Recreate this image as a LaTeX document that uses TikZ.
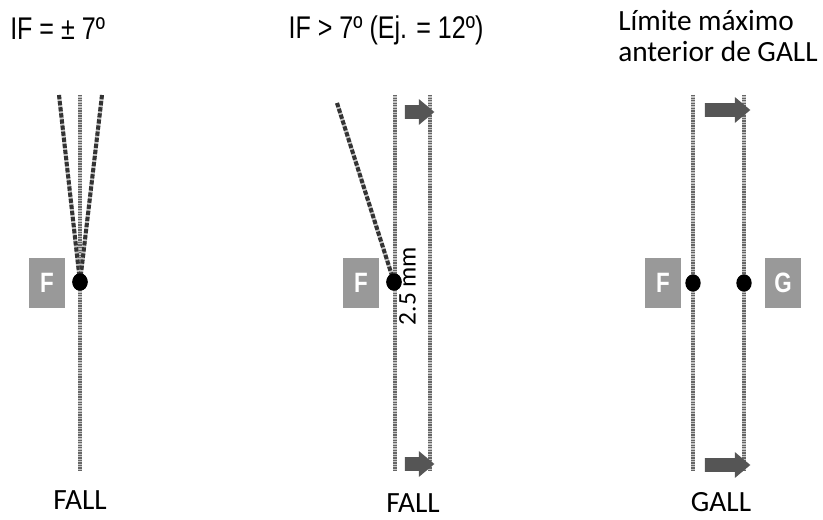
\documentclass[tikz,border=0pt]{standalone}
\usepackage{fontspec}
\setmainfont{Carlito}
\newfontfamily\condfont[FakeStretch=0.8]{Liberation Sans}
\usetikzlibrary{shapes.arrows,shapes.geometric}
\definecolor{boxgray}{HTML}{999999}
\definecolor{guidelight}{HTML}{C4C4C4}
\definecolor{guidedark}{HTML}{666666}
\definecolor{slantdark}{HTML}{333333}
\definecolor{arrowgray}{HTML}{555555}
\tikzset{
  guidebase/.style={draw=guidelight, line width=2.7pt},
  guidedash/.style={draw=guidedark, line width=2.7pt, dash pattern=on 1pt off 0.9pt},
  slantbase/.style={draw=guidelight, line width=3pt},
  slantdash/.style={draw=slantdark, line width=3pt, dash pattern=on 3.2pt off 1.4pt},
  dot/.style={ellipse, fill=black, inner sep=0pt, minimum width=11.5pt, minimum height=13pt},
  letterbox/.style={fill=boxgray, text=white, minimum width=27pt, minimum height=38pt, inner sep=0pt, font=\condfont\bfseries\fontsize{21}{21}\selectfont},
  blockarrow/.style={single arrow, fill=arrowgray, inner xsep=0pt, inner ysep=5pt, single arrow head extend=4.5pt, single arrow tip angle=80, single arrow head indent=0pt, anchor=center},
  titlecond/.style={font=\condfont\fontsize{23.5}{23.5}\selectfont, inner sep=0pt},
  titlecal/.style={font=\fontsize{22}{23.5}\selectfont, inner sep=0pt, align=left},
  bottomlbl/.style={font=\fontsize{22}{22}\selectfont, inner sep=0pt},
}
\begin{document}
\begin{tikzpicture}[x=0.75pt, y=-0.75pt]
\useasboundingbox (0,0) rectangle (823,520);
% ---------- titles
\node[titlecond, anchor=west] (t1) at (10,29) {IF = ± 7º};
\node[titlecond] (t2) at (386,30) {IF > 7º (Ej. = 12º)};
\node[titlecal, anchor=north west] (t3) at (618,10) {Límite máximo\\anterior de GALL};
% ---------- panel 1
\coordinate (p1top) at (80,95);
\coordinate (p1bot) at (80,470);
\coordinate (p1l) at (59,95);
\coordinate (p1r) at (102,95);
\node[dot] (d1) at (80,282) {};
\draw[guidebase] (p1top) -- (p1bot);
\draw[guidedash] (p1top) -- (p1bot);
\draw[slantbase] (p1l) -- (d1.center);
\draw[slantdash] (p1l) -- (d1.center);
\draw[slantbase] (p1r) -- (d1.center);
\draw[slantdash] (p1r) -- (d1.center);
\node[dot] at (d1) {};
\node[letterbox] (f1) at (47,283) {F};
\node[bottomlbl] (l1) at (80,500) {FALL};
% ---------- panel 2
\coordinate (p2atop) at (395,95);
\coordinate (p2abot) at (395,470);
\coordinate (p2btop) at (430,95);
\coordinate (p2bbot) at (430,470);
\coordinate (p2s) at (337,103);
\node[dot] (d2) at (394,282) {};
\foreach \a/\b in {p2atop/p2abot, p2btop/p2bbot}{
  \draw[guidebase] (\a) -- (\b);
  \draw[guidedash] (\a) -- (\b);
}
\draw[slantbase] (p2s) -- (d2.center);
\draw[slantdash] (p2s) -- (d2.center);
\node[dot] at (d2) {};
\node[letterbox] (f2) at (361,283) {F};
\node[blockarrow, minimum height=22pt, minimum width=16pt] (a2t) at (415.5,112) {};
\node[blockarrow, minimum height=22pt, minimum width=16pt] (a2b) at (415.5,464) {};
\node[font=\fontsize{19}{19}\selectfont, rotate=90, inner sep=0pt] (mm) at (407.5,286) {2.5 mm};
\node[bottomlbl] (l2) at (413,503) {FALL};
% ---------- panel 3
\coordinate (p3atop) at (693,95);
\coordinate (p3abot) at (693,470);
\coordinate (p3btop) at (744,95);
\coordinate (p3bbot) at (744,470);
\foreach \a/\b in {p3atop/p3abot, p3btop/p3bbot}{
  \draw[guidebase] (\a) -- (\b);
  \draw[guidedash] (\a) -- (\b);
}
\node[dot] (d3a) at (693,283) {};
\node[dot] (d3b) at (744,283) {};
\node[letterbox] (f3) at (663,283) {F};
\node[letterbox] (g3) at (783,283) {G};
\node[blockarrow, minimum height=34pt, minimum width=19pt] (a3t) at (723.5,110) {};
\node[blockarrow, minimum height=34pt, minimum width=19pt] (a3b) at (723.5,465) {};
\node[bottomlbl] (l3) at (721,502) {GALL};
\end{tikzpicture}
\end{document}
